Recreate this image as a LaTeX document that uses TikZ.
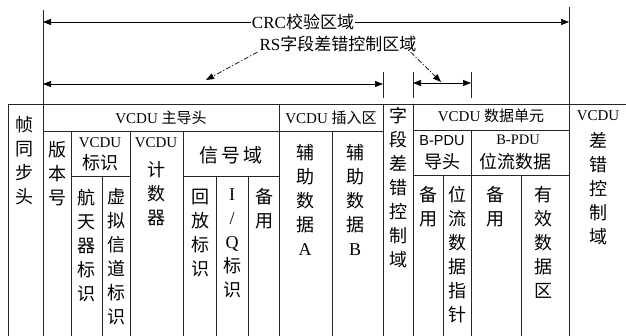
\documentclass[tikz,border=0pt]{standalone}
\usepackage{fontspec}
\setmainfont{Liberation Serif}
\newfontfamily\cjk{Noto Sans CJK SC}
\newfontfamily\arialf{Liberation Sans}
\usetikzlibrary{arrows.meta}
\begin{document}
\begin{tikzpicture}[x=1pt,y=-1pt,
  tline/.style={line width=0.7pt, draw=black!85},
  zh/.style={inner sep=0pt, anchor=north, align=center, font=\cjk\fontsize{18}{24}\selectfont},
  zhc/.style={inner sep=0pt, anchor=center, font=\cjk\fontsize{18}{24}\selectfont},
  hdr/.style={inner sep=0pt, anchor=center, font=\fontsize{15}{18}\selectfont},
  lbl/.style={inner sep=1pt, anchor=center, font=\fontsize{17}{20}\selectfont},
  onetip/.style={line width=0.7pt, -{Triangle[length=8pt,width=6pt]}},
  twotip/.style={line width=0.7pt, {Triangle[length=8pt,width=6pt]}-{Triangle[length=8pt,width=6pt]}},
  ddash/.style={dash pattern=on 5pt off 2pt on 1.2pt off 2pt},
]
\useasboundingbox (0,0) rectangle (626,336);

% ---- table grid ----
\draw[tline] (8,104) -- (626,104);
\draw[tline] (8,104) -- (8,336);
\draw[tline] (43,10) -- (43,336);
\draw[tline] (71,131) -- (71,336);
\draw[tline] (102,176) -- (102,336);
\draw[tline] (130,131) -- (130,336);
\draw[tline] (183,131) -- (183,336);
\draw[tline] (216,176) -- (216,336);
\draw[tline] (248,176) -- (248,336);
\draw[tline] (279,104) -- (279,336);
\draw[tline] (332,131) -- (332,336);
\draw[tline] (383,72) -- (383,98);
\draw[tline] (383,104) -- (383,336);
\draw[tline] (413,72) -- (413,98);
\draw[tline] (413,104) -- (413,336);
\draw[tline] (443,175) -- (443,336);
\draw[tline] (471,72) -- (471,98);
\draw[tline] (471,130) -- (471,336);
\draw[tline] (521,175) -- (521,336);
\draw[tline] (569,7) -- (569,336);

\draw[tline] (43,131) -- (383,131);
\draw[tline] (413,130) -- (569,130);
\draw[tline] (71,176) -- (130,176);
\draw[tline] (183,176) -- (279,176);
\draw[tline] (413,175) -- (569,175);

% ---- arrows and labels above ----
\node[lbl] (crc) at (303,22) {CRC{\cjk 校验区域}};
\coordinate (crcL) at (43,22);
\coordinate (crcR) at (569,22);
\draw[onetip] (crc.west) -- (crcL);
\draw[onetip] (crc.east) -- (crcR);

\node[lbl,inner sep=0pt] (rs) at (338,44) {RS{\cjk 字段差错控制区域}};
\coordinate (rsL) at (43,84);
\coordinate (rsR) at (383,84);
\draw[twotip] (rsL) -- (rsR);
\coordinate (fL) at (413,83);
\coordinate (fR) at (471,83);
\draw[twotip] (fL) -- (fR);
\coordinate (tipA) at (206,80);
\coordinate (tipB) at (441,82);
\draw[onetip,ddash] ([xshift=-2pt]rs.south west) -- (tipA);
\draw[onetip,ddash] ([xshift=-6pt]rs.south east) -- (tipB);

% ---- cell texts ----
\node[zh] (zhen) at (25,116.5) {帧\\同\\步\\头};
\node[hdr] (mainhdr) at (161,118) {VCDU {\cjk\fontsize{15}{18}\selectfont 主导头}};
\node[hdr] (inshdr) at (331,118) {VCDU {\cjk\fontsize{15}{18}\selectfont 插入区}};
\node[zh] (ver) at (57,141.5) {版\\本\\号};
\node[hdr] (idv) at (100,143) {VCDU};
\node[zhc] (idz) at (100,163) {标识};
\node[zh] (scid) at (86,188.5) {航\\天\\器\\标\\识};
\node[zh] (vcid) at (116,188.5) {虚\\拟\\信\\道\\标\\识};
\node[hdr] (cntv) at (156,143) {VCDU};
\node[zh] (cntz) at (156,161.5) {计\\数\\器};
\node[zhc,font=\cjk\fontsize{19}{24}\selectfont] (sig) at (231,155) {信\,号\,域};
\node[zh] (replay) at (200,188.5) {回\\放\\标\\识};
\node[zh] (iq) at (232,188.5) {{\rmfamily I}\\{\rmfamily /}\\{\rmfamily Q}\\标\\识};
\node[zh] (spare1) at (264,188.5) {备\\用};
\node[zh] (auxA) at (305,144.5) {辅\\助\\数\\据\\{\rmfamily A}};
\node[zh] (auxB) at (355,144.5) {辅\\助\\数\\据\\{\rmfamily B}};
\node[zh] (fec) at (398,107.5) {字\\段\\差\\错\\控\\制\\域};
\node[hdr] (duhdr) at (491,116) {VCDU {\cjk\fontsize{15}{18}\selectfont 数据单元}};
\node[hdr,font=\arialf\fontsize{14.5}{18}\selectfont] (bph) at (442,141) {B-PDU};
\node[zhc] (bphz) at (442,162) {导头};
\node[hdr,font=\fontsize{14.5}{18}\selectfont] (bpd) at (518,140) {B-PDU};
\node[zhc] (bpdz) at (515,162) {位流数据};
\node[zh] (spare2) at (428,186.5) {备\\用};
\node[zh] (ptr) at (457,186.5) {位\\流\\数\\据\\指\\针};
\node[zh] (spare3) at (495,186.5) {备\\用};
\node[zh] (valid) at (543,186.5) {有\\效\\数\\据\\区};
\node[hdr] (ecv) at (598,116) {VCDU};
\node[zh] (ecz) at (598,132.5) {差\\错\\控\\制\\域};
\end{tikzpicture}
\end{document}
